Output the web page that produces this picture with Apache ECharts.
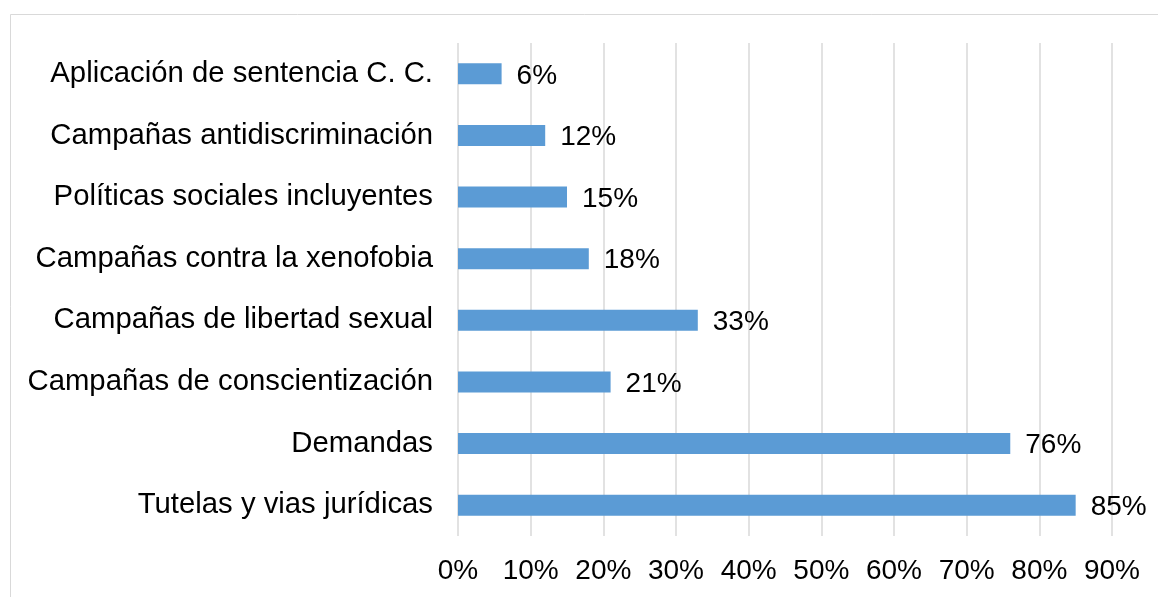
<!DOCTYPE html>
<html><head><meta charset="utf-8">
<script src="https://cdn.jsdelivr.net/npm/echarts@6/dist/echarts.min.js"></script>
<style>html,body{margin:0;padding:0;background:#fff}#c{width:1158px;height:597px}</style>
</head><body><div id="c"></div>
<script>
const categories = ["Tutelas y vias jurídicas","Demandas","Campañas de conscientización","Campañas de libertad sexual","Campañas contra la xenofobia","Políticas sociales incluyentes","Campañas antidiscriminación","Aplicación de sentencia C. C."];
const values = [85,76,21,33,18,15,12,6];
const font = "'Liberation Sans', Arial, sans-serif";
const chart = echarts.init(document.getElementById('c'), null, {renderer:'canvas'});
chart.setOption({
  animation:false,
  backgroundColor:'#fff',
  graphic:[{type:'rect',shape:{x:10.5,y:14.5,width:1300,height:700},style:{fill:'none',stroke:'#d9d9d9',lineWidth:1},silent:true,z:-1}],
  grid:{left:458,right:46,top:43,bottom:61,containLabel:false},
  xAxis:{type:'value',min:0,max:90,interval:10,
    axisLine:{show:false},axisTick:{show:false},
    splitLine:{show:true,lineStyle:{color:'#d9d9d9',width:1.5}},
    axisLabel:{formatter:'{value}%',color:'#000',fontSize:28,fontFamily:font,margin:21}},
  yAxis:{type:'category',data:categories,
    axisLine:{show:false},axisTick:{show:false},
    axisLabel:{color:'#000',fontSize:29.3,fontFamily:font,margin:25,padding:[4,0,0,0]}},
  series:[{type:'bar',data:values,barWidth:21,itemStyle:{color:'#5b9bd5'},
    label:{show:true,position:'right',distance:15,formatter:'{c}%',color:'#000',fontSize:28,fontFamily:font,offset:[0,2]}}]
});
</script></body></html>
